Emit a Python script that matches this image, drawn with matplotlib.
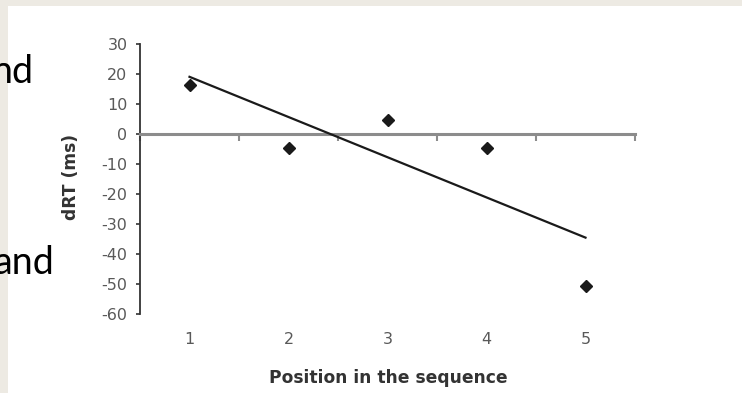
import numpy as np
import matplotlib.pyplot as plt
from matplotlib.patches import Rectangle
import matplotlib.transforms as mtransforms

# data
positions = [1, 2, 3, 4, 5]
drt = [16.3, -4.5, 4.7, -4.5, -50.7]
yticks = list(range(-60, 31, 10))

W, H = 742, 393
fig = plt.figure(figsize=(W / 100, H / 100), dpi=100)
fig.patch.set_facecolor('#edeae3')
# white slide area
fig.patches.append(Rectangle((8 / W, 0), 1, 1 - 6 / H, transform=fig.transFigure,
                             facecolor='white', edgecolor='none', zorder=-1))

# text fragments from the slide behind (cut off at the left edge, as in the picture)
fig.text(33 / W, 1 - 83 / H, 'nd', ha='right', va='baseline', fontsize=27,
         family='Lato', color='black')
fig.text(54 / W, 1 - 274 / H, 'and', ha='right', va='baseline', fontsize=27,
         family='Lato', color='black')

ax = fig.add_axes([140 / W, 1 - 314 / H, 495 / W, 270 / H])
ax.set_zorder(2)
ax.patch.set_alpha(0)

x = np.array(positions)
y = np.array(drt)
ax.plot(x, y, 'D', color='#1a1a1a', markersize=6, zorder=3)

# linear trend line
k, b = np.polyfit(x, y, 1)
ax.plot([x[0], x[-1]], [k * x[0] + b, k * x[-1] + b], color='#1a1a1a', lw=1.6, zorder=3)

ax.set_xlim(0.5, 5.5)
ax.set_ylim(-60, 30)

for s in ['top', 'right']:
    ax.spines[s].set_visible(False)
ax.spines['left'].set_color('#333333')
ax.spines['left'].set_linewidth(1.3)
ax.spines['bottom'].set_position(('data', 0))
ax.spines['bottom'].set_color('#8c8c8c')
ax.spines['bottom'].set_linewidth(2.2)

tick_font = dict(family='DejaVu Sans', fontsize=11.5, color='#595959')
ax.set_yticks(yticks)
ax.set_yticklabels([str(v) for v in yticks], **tick_font)
ax.tick_params(axis='y', direction='out', length=3, width=1.2, color='#333333', pad=6)
ax.set_xticks(np.arange(0.5, 5.6, 1))
ax.set_xticklabels([])
ax.tick_params(axis='x', direction='out', length=5, width=1.5, color='#8c8c8c')

trans = mtransforms.blended_transform_factory(ax.transData, ax.transAxes)
for p in positions:
    ax.text(p, -0.096, str(p), transform=trans, ha='center', va='center', **tick_font)

fig.text(388 / W, 1 - 378 / H, 'Position in the sequence', ha='center', va='center',
         family='DejaVu Sans', fontsize=12.3, fontweight='bold', color='#333333')
fig.text(71 / W, 1 - 177 / H, 'dRT (ms)', ha='center', va='center', rotation=90,
         family='DejaVu Sans', fontsize=12.3, fontweight='bold', color='#333333')

fig.savefig('out.png', dpi=100)
